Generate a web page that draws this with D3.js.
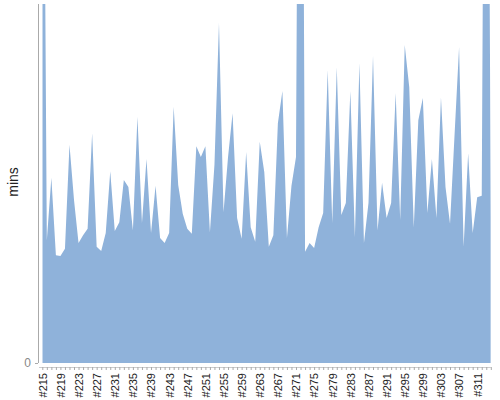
<!DOCTYPE html>
<html>
<head>
<meta charset="utf-8">
<script src="https://cdn.jsdelivr.net/npm/d3@7"></script>
<style>
  html, body { margin: 0; padding: 0; background: #fff; }
  svg { display: block; font-family: "Liberation Sans", Arial, sans-serif; }
</style>
</head>
<body>
<svg id="chart" width="500" height="400"></svg>
<script>
// Build numbers (categories)
const builds = [
  "#215","#216","#217","#218","#219","#220","#221","#222","#223","#224",
  "#225","#226","#227","#228","#229","#230","#231","#232","#233","#234",
  "#235","#236","#237","#238","#239","#240","#241","#242","#243","#244",
  "#245","#246","#247","#248","#249","#250","#251","#252","#253","#254",
  "#255","#256","#257","#258","#259","#260","#261","#262","#263","#264",
  "#265","#266","#267","#268","#269","#270","#271","#272","#273","#274",
  "#275","#276","#277","#278","#279","#280","#281","#282","#283","#284",
  "#285","#286","#287","#288","#289","#290","#291","#292","#293","#294",
  "#295","#296","#297","#298","#299","#300","#301","#302","#303","#304",
  "#305","#306","#307","#308","#309","#310","#311","#312","#313","#314"
];
// Duration in minutes for each build
const minutes = [
  115, 17.1, 25.8, 15.0, 14.9, 15.9, 30.4, 22.7, 16.7, 17.8,
  18.7, 32.0, 16.2, 15.6, 18.1, 26.7, 18.4, 19.6, 25.5, 24.5,
  18.5, 34.3, 19.5, 28.4, 18.1, 24.7, 17.4, 16.7, 18.1, 35.7,
  24.8, 20.8, 18.7, 18.0, 30.2, 28.7, 30.2, 18.2, 27.6, 47.4,
  21.0, 28.7, 34.8, 20.2, 17.3, 29.4, 18.9, 16.9, 30.8, 26.6,
  16.2, 17.8, 33.4, 37.9, 17.4, 24.7, 28.7, 150, 15.5, 16.7,
  16.0, 18.9, 20.9, 40.8, 19.5, 41.2, 20.6, 22.3, 37.9, 17.5,
  41.8, 16.7, 22.3, 42.8, 18.5, 25.1, 20.2, 22.3, 37.6, 19.9,
  44.3, 38.4, 18.9, 33.8, 36.9, 20.9, 28.4, 20.2, 37.0, 24.5,
  19.4, 31.8, 44.0, 16.2, 29.2, 18.1, 23.1, 23.3, 145, 20.3
];
// Labelled x ticks
const xTickLabels = [
  "#215","#219","#223","#227","#231","#235","#239","#243","#247","#251",
  "#255","#259","#263","#267","#271","#275","#279","#283","#287","#291",
  "#295","#299","#303","#307","#311"
];
const yTicks = [0];
const yLabel = "mins";

const svg = d3.select("#chart");
const plot = { left: 42.3, right: 490.8, top: 4, bottom: 363 };

const x = d3.scalePoint().domain(builds).range([plot.left, plot.right]);
const y = d3.scaleLinear().domain([0, 50]).range([plot.bottom, plot.top]);

svg.append("defs").append("clipPath").attr("id", "clip")
  .append("rect")
  .attr("x", plot.left).attr("y", plot.top)
  .attr("width", plot.right - plot.left).attr("height", plot.bottom - plot.top);

const data = builds.map((b, i) => ({ b, v: minutes[i] }));

const area = d3.area()
  .x(d => x(d.b))
  .y0(y(0))
  .y1(d => y(d.v));

svg.append("path")
  .datum(data)
  .attr("clip-path", "url(#clip)")
  .attr("fill", "#8fb2da")
  .attr("d", area);

// Y axis
const yAxis = svg.append("g")
  .attr("transform", "translate(38,0)")
  .call(d3.axisLeft(y).tickValues(yTicks).tickSize(3).tickSizeOuter(0).tickPadding(4));
yAxis.select(".domain").attr("stroke", "#aaa").attr("d", `M0.5,${plot.top}V${plot.bottom}`);
yAxis.selectAll(".tick line").attr("stroke", "#aaa");
yAxis.selectAll(".tick text").attr("fill", "#888").style("font-size", "12px");

svg.append("text")
  .attr("transform", `translate(18,182) rotate(-90)`)
  .attr("text-anchor", "middle")
  .attr("fill", "#222")
  .style("font-size", "14px")
  .text(yLabel);

// X axis
const xAxis = svg.append("g")
  .attr("transform", "translate(0,367)")
  .call(d3.axisBottom(x)
    .tickValues(builds)
    .tickFormat(d => xTickLabels.includes(d) ? d : "")
    .tickSize(3)
    .tickSizeOuter(0)
    .tickPadding(3));
xAxis.select(".domain").attr("stroke", "#ccc").attr("d", `M39,0.5H${plot.right}`);
xAxis.selectAll(".tick line").attr("stroke", "#aaa");
xAxis.selectAll(".tick text")
  .attr("fill", "#222")
  .style("font-size", "11px")
  .attr("transform", "rotate(-90)")
  .attr("text-anchor", "end")
  .attr("x", -6)
  .attr("y", 0)
  .attr("dy", "0.35em");
</script>
</body>
</html>
